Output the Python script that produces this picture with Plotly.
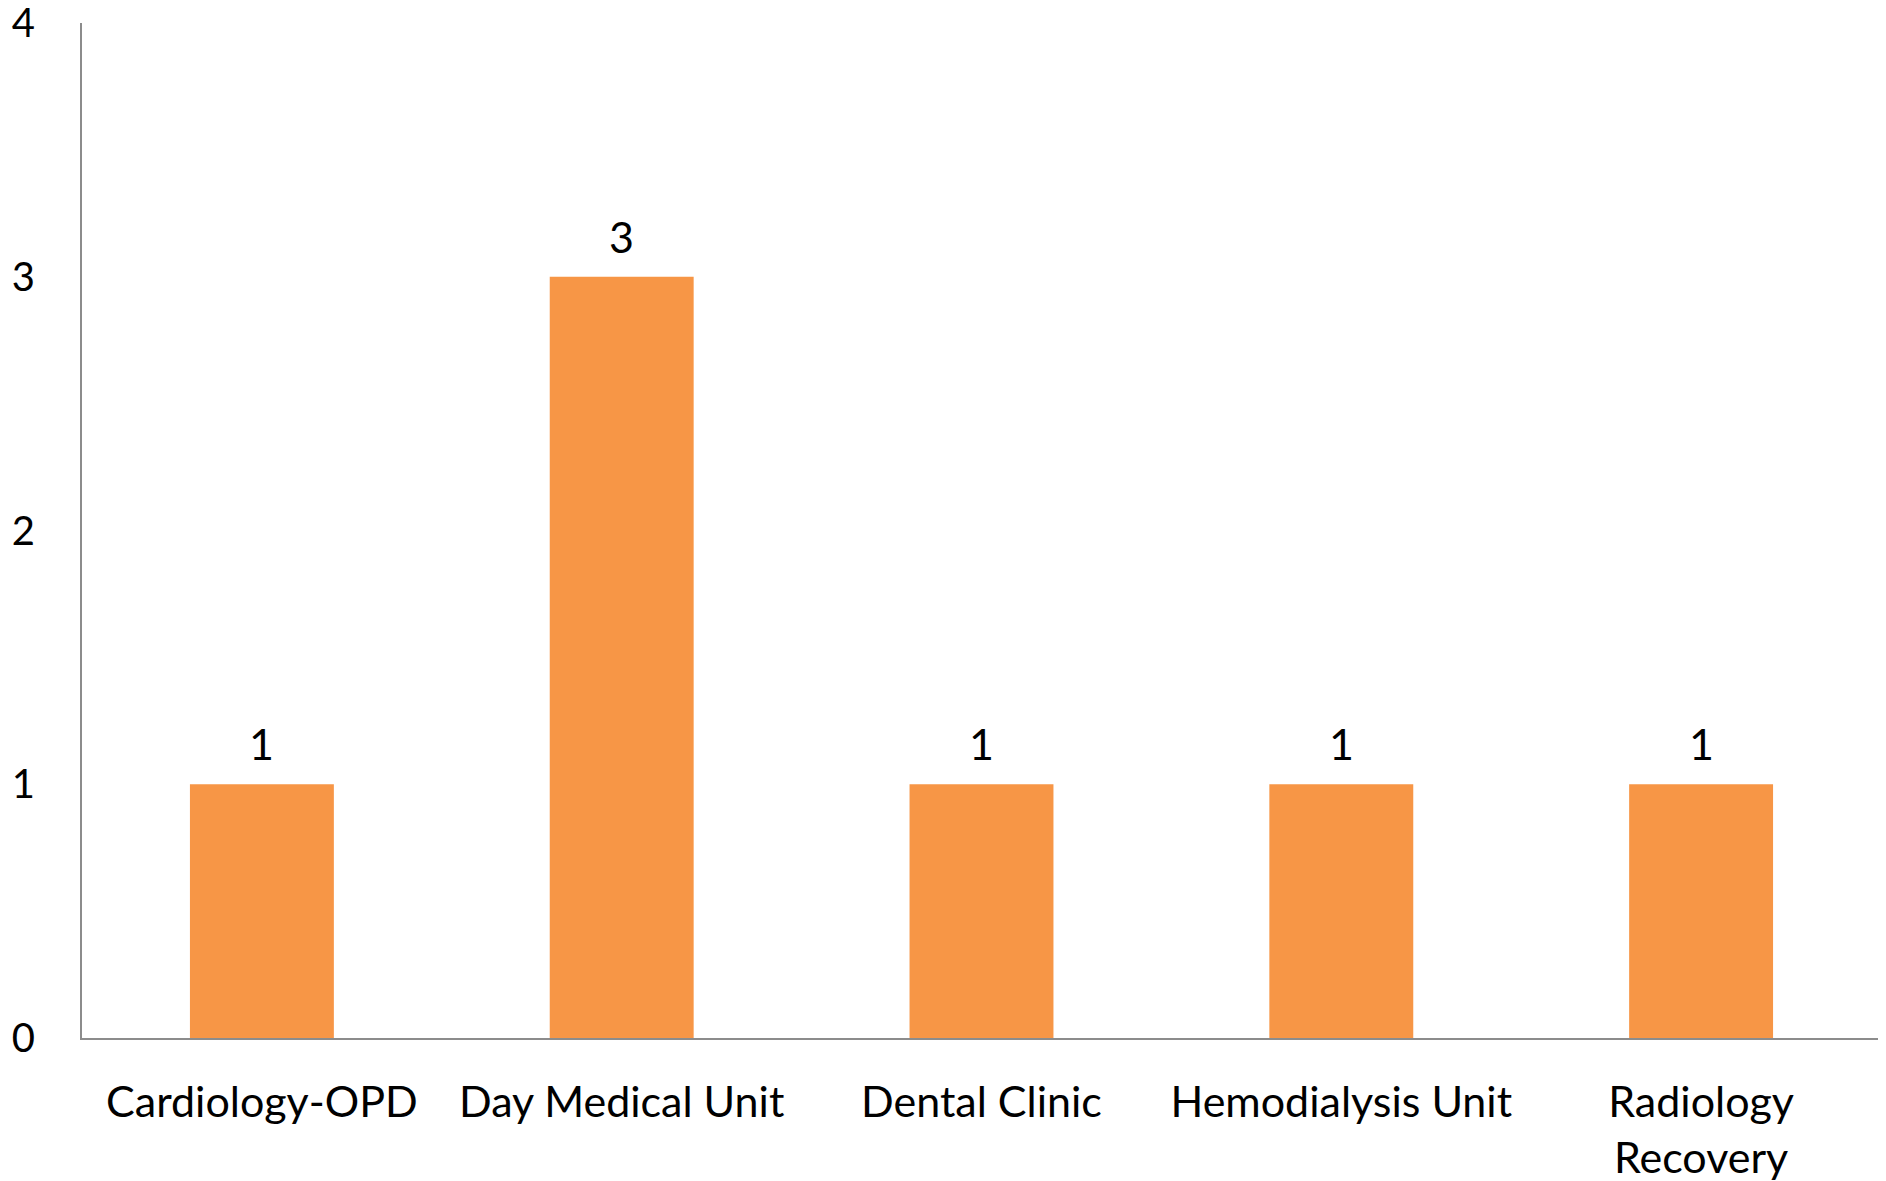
import plotly.graph_objects as go

categories = ["Cardiology-OPD", "Day Medical Unit", "Dental Clinic", "Hemodialysis Unit", "Radiology<br>Recovery"]
values = [1, 3, 1, 1, 1]
y_ticks = [0, 1, 2, 3, 4]

FONT = "Lato, 'Open Sans', sans-serif"
FS = 43

fig = go.Figure(
    go.Bar(
        x=categories,
        y=values,
        marker=dict(color="#F79646", line=dict(width=0)),
        width=0.4,
        hoverinfo="x+y",
    )
)

for c, v in zip(categories, values):
    fig.add_annotation(
        x=c, y=v, text=str(v), showarrow=False,
        yanchor="bottom", yshift=13,
        font=dict(family=FONT, size=FS, color="#000000"),
    )

# page body has an 8px default margin, so the figure is sized to fit inside it
fig.update_layout(
    width=1878,
    height=1173,
    margin=dict(l=74, r=5, t=15, b=143, autoexpand=False),
    paper_bgcolor="white",
    plot_bgcolor="white",
    showlegend=False,
    font=dict(family=FONT, size=FS, color="#000000"),
)
fig.update_xaxes(
    showline=True,
    linecolor="#8C8C8C",
    linewidth=2,
    showgrid=False,
    ticks="",
    tickfont=dict(family=FONT, size=FS, color="#000000"),
    ticklabelstandoff=25,
    automargin=False,
)
fig.update_yaxes(
    range=[0, 4],
    tickvals=y_ticks,
    showline=True,
    linecolor="#8C8C8C",
    linewidth=2,
    showgrid=False,
    zeroline=False,
    ticks="",
    tickfont=dict(family=FONT, size=40, color="#000000"),
    ticklabelstandoff=37,
    ticklabeloverflow="allow",
    automargin=False,
)

fig.write_html("out.html")
